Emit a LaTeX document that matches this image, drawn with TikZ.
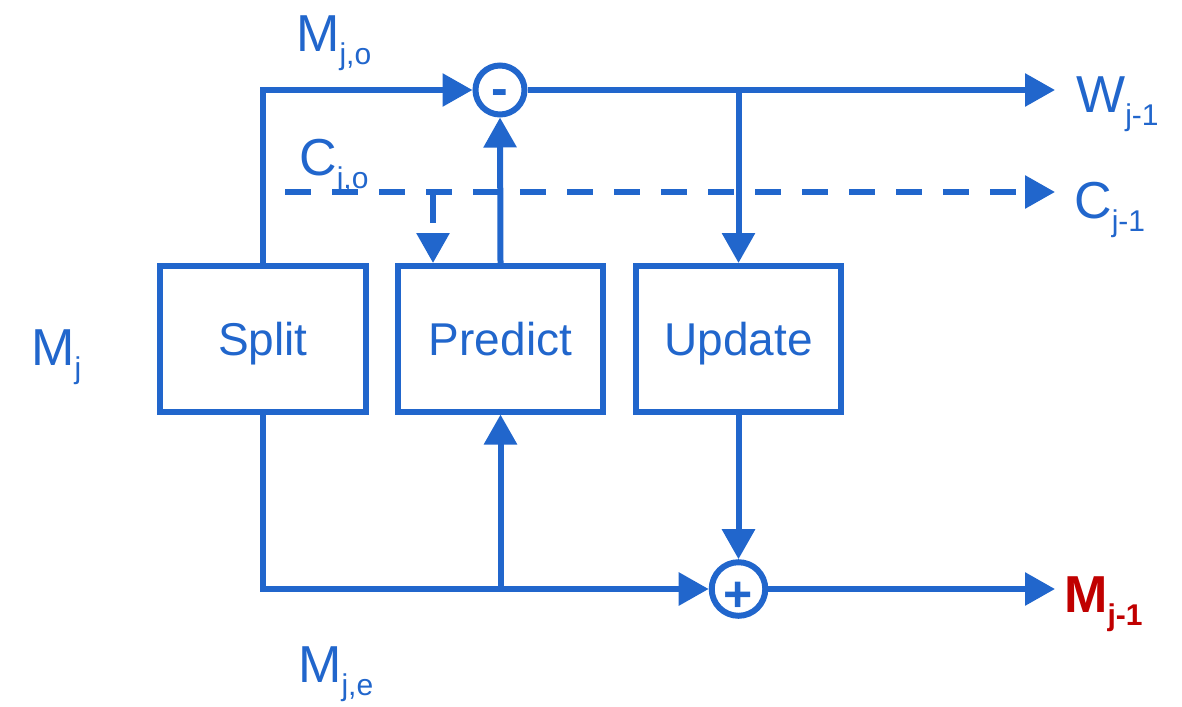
\documentclass[tikz,border=0pt]{standalone}
\usepackage{fontspec}
\setmainfont{Liberation Sans}
\usetikzlibrary{arrows.meta}
\definecolor{lnblue}{RGB}{33,102,204}
\definecolor{lnred}{RGB}{192,0,0}
\newcommand{\mylab}[2]{{\fontsize{52}{60}\selectfont #1}\raisebox{-13pt}{\fontsize{30}{32}\selectfont #2}}
\begin{document}
\begin{tikzpicture}[x=1pt,y=-1pt,
  conn/.style={draw=lnblue,line width=6pt},
  blk/.style={draw=lnblue,line width=6pt,rectangle,minimum width=205.5pt,minimum height=145.5pt,
    inner sep=0pt,text=lnblue,font=\fontsize{46}{50}\selectfont,text height=33pt,text depth=0pt},
  op/.style={draw=lnblue,line width=6pt,circle,minimum size=49pt,inner sep=0pt,text=lnblue,
    font=\bfseries\fontsize{50}{50}\selectfont,text depth=0pt},
  arr/.style={conn,-{Triangle[length=30pt,width=32pt]}},
  dsh/.style={dash pattern=on 26pt off 21pt},
  lab/.style={anchor=base west,inner sep=0pt,text=lnblue}
]
\useasboundingbox (0,0) rectangle (1182,706);
% blocks
\node[blk] (split) at (262.75,338.75) {Split};
\node[blk] (predict) at (500.5,338.75) {Predict};
\node[blk] (update) at (738.5,338.75) {Update};
% operators
\node[op,text height=32pt] (minus) at (500,90) {-};
\node[op,text height=45pt] (plus) at (738.5,589) {+};
% free ends
\coordinate (wend) at (1055,90);
\coordinate (cstart) at (285,192);
\coordinate (cend) at (1055,192);
\coordinate (cbr) at (433,192);
\coordinate (mend) at (1055,589);
\coordinate (jw) at (update.north |- minus.east);
\coordinate (jb) at (predict.south |- plus.west);
% connectors
\draw[arr] (split.north) |- (minus.west);
\draw[arr] (predict.north) -- (minus.south);
\draw[arr] (minus.east) -- (wend);
\draw[arr] (jw) -- (update.north);
\draw[arr,dsh] (cstart) -- (cend);
\draw[arr,dash pattern=on 31pt off 21pt] (cbr) -- (cbr |- predict.north);
\draw[arr] (split.south) |- (plus.west);
\draw[arr] (jb) -- (predict.south);
\draw[arr] (update.south) -- (plus.north);
\draw[arr] (plus.east) -- (mend);
% labels
\node[lab] (lMjo) at (296,52) {\mylab{M}{j,o}};
\node[lab] (lCjo) at (299,175) {\mylab{C}{j,o}};
\node[lab] (lMj) at (31,365) {\mylab{M}{j}};
\node[lab] (lMje) at (298,682) {\mylab{M}{j,e}};
\node[lab] (lW) at (1076,113) {\mylab{W}{j-1}};
\node[lab] (lC) at (1074,218) {\mylab{C}{j-1}};
\node[lab,text=lnred,font=\bfseries] (lM) at (1064,612) {\mylab{M}{j-1}};
\end{tikzpicture}
\end{document}
